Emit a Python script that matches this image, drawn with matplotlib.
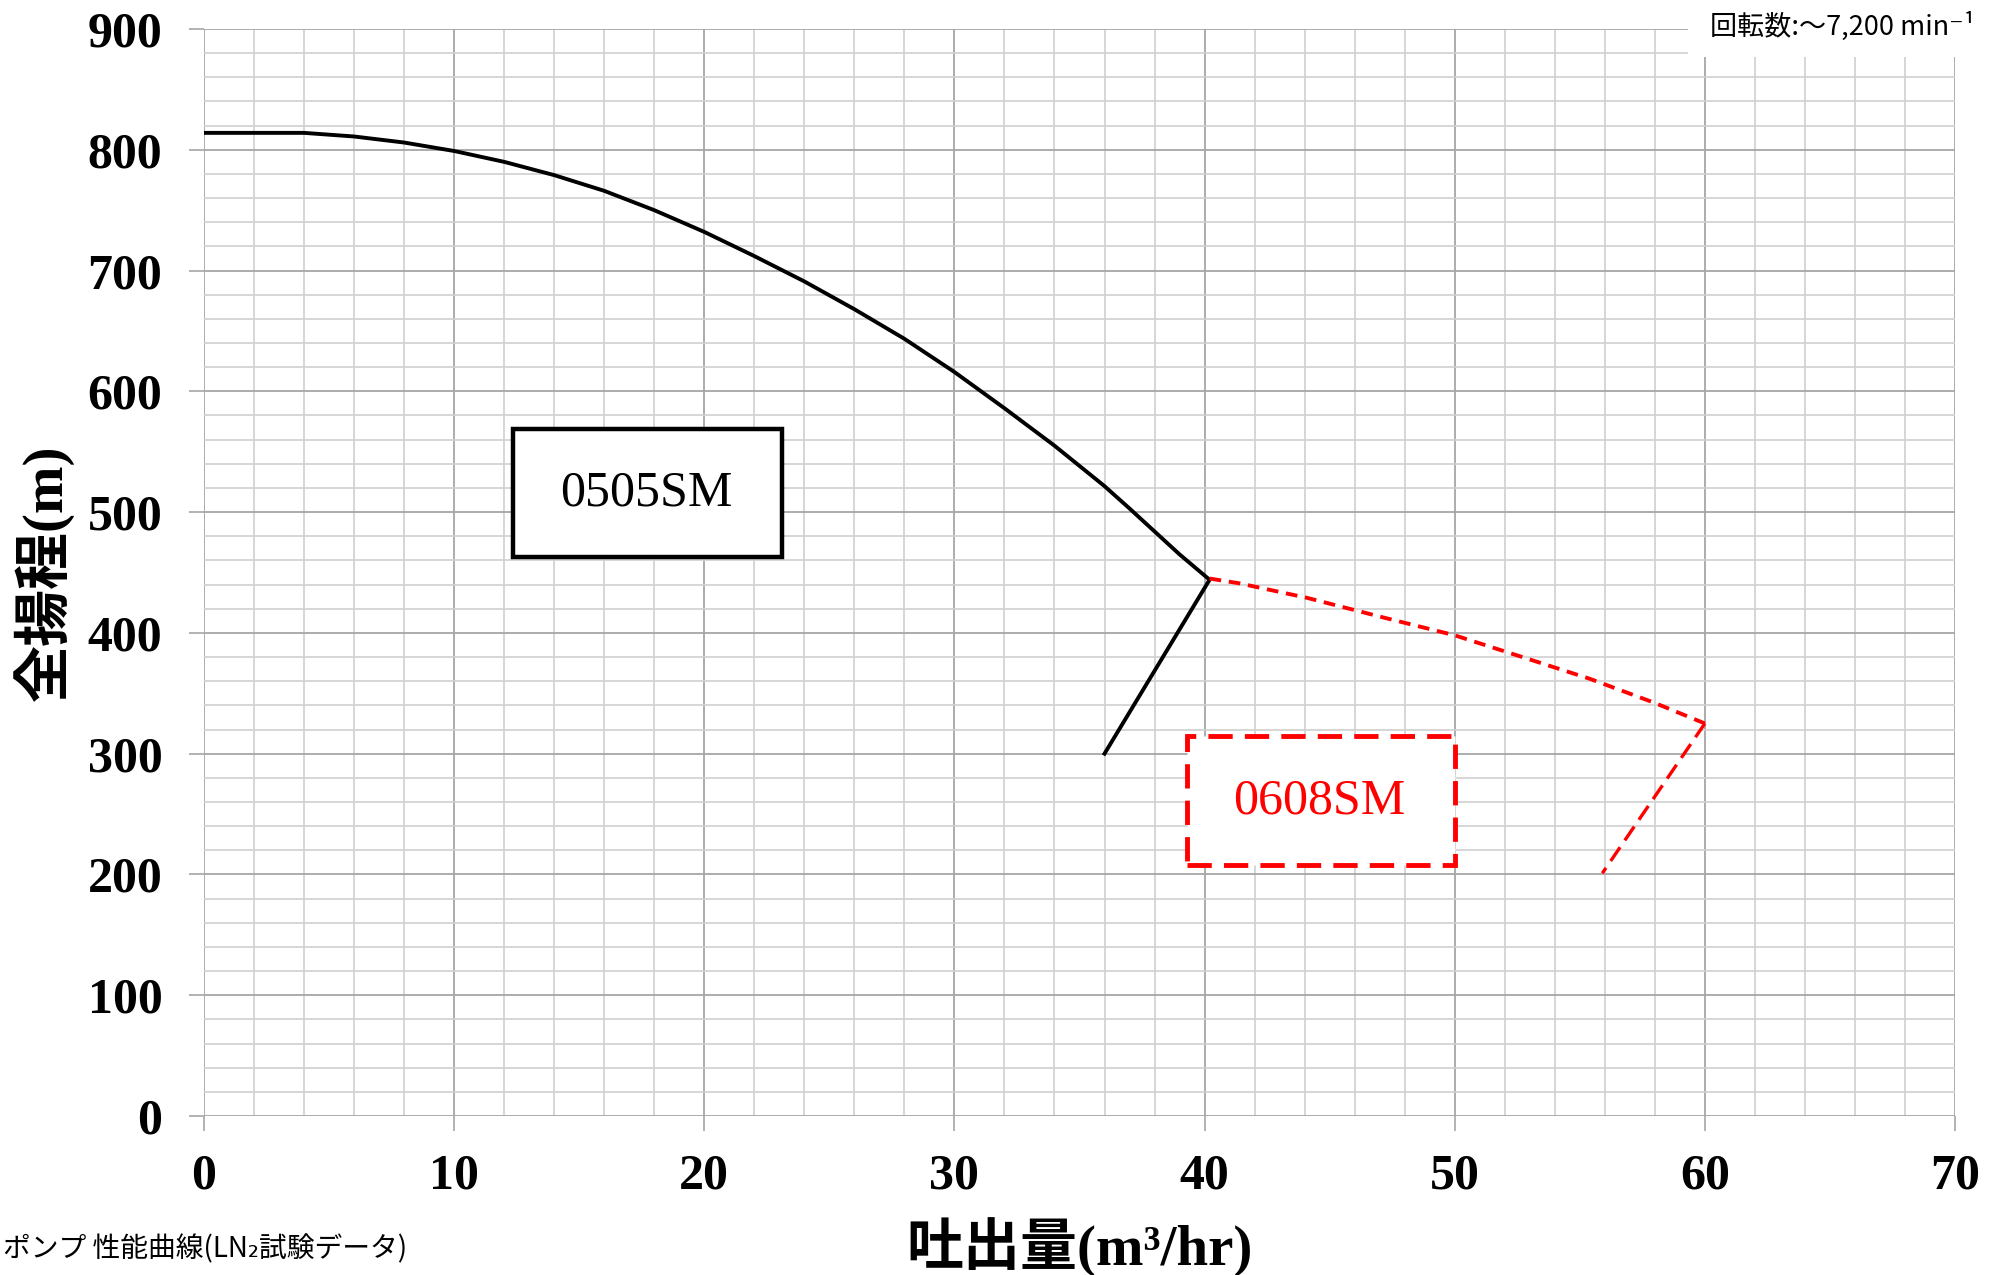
import matplotlib
matplotlib.use('Agg')
from matplotlib import pyplot as plt
from matplotlib.patches import Rectangle
from matplotlib.ticker import MultipleLocator

# 0505SM head curve (solid black)
q_0505 = [0, 2, 4, 6, 8, 10, 12, 14, 16, 18, 20, 22, 24, 26, 28, 30,
          32, 34, 36, 37, 38, 39, 40.2, 36.0]
h_0505 = [814, 814, 814, 811, 806, 799, 790, 779, 766, 750, 732, 712,
          691, 668, 643.5, 616, 586, 555, 521.5, 503, 484, 465, 444, 300]

# 0608SM head curve (dashed red)
q_0608 = [40.2, 41.4, 44.1, 47.1, 50.0, 52.4, 55.4, 58.0, 60.0]
h_0608 = [445, 441, 429, 413, 398, 382, 362, 342, 325]
q_0608_end = [60.0, 55.9]
h_0608_end = [325, 201]

xticks = [0, 10, 20, 30, 40, 50, 60, 70]
yticks = [0, 100, 200, 300, 400, 500, 600, 700, 800, 900]

serif = ['Liberation Serif', 'Noto Sans CJK JP', 'DejaVu Sans']
cjk = ['Noto Sans CJK JP', 'DejaVu Sans']

W, H = 1997, 1275
fig = plt.figure(figsize=(W / 100, H / 100), dpi=100)
ax = fig.add_axes([204 / W, 1 - 1116 / H, (1955 - 204) / W, (1116 - 29) / H])

ax.set_xlim(0, 70)
ax.set_ylim(0, 900)
ax.set_xticks(xticks)
ax.set_yticks(yticks)
ax.xaxis.set_minor_locator(MultipleLocator(2))
ax.yaxis.set_minor_locator(MultipleLocator(20))
ax.grid(which='major', color='#a6a6a6', lw=1.3)
ax.grid(which='minor', color='#d0d0d0', lw=1.2)
ax.set_axisbelow(True)
for s in ax.spines.values():
    s.set_visible(False)
ax.tick_params(which='major', length=11, width=1.2, color='#a6a6a6')
ax.tick_params(which='minor', length=0)
ax.tick_params(axis='x', pad=16)
ax.tick_params(axis='y', pad=19)
for lab in ax.get_xticklabels() + ax.get_yticklabels():
    lab.set_fontfamily(serif)
    lab.set_fontweight('bold')
    lab.set_fontsize(36)

ax.set_xlabel('吐出量(m³/hr)', family=serif, fontweight='bold', fontsize=41,
              va='center')
ax.xaxis.set_label_coords(0.5, (1116 - 1248) / 1087)
ax.set_ylabel('全揚程(m)', family=serif, fontweight='bold', fontsize=41,
              va='center')
ax.yaxis.set_label_coords((43 - 204) / 1751, 0.5)

# curves
ax.plot(q_0505, h_0505, color='black', lw=2.8, zorder=3)
ax.plot(q_0608, h_0608, color='#ff0000', lw=2.8, dashes=(3, 2), zorder=3)
ax.plot(q_0608_end, h_0608_end, color='#ff0000', lw=2.4, dashes=(5, 2.5), zorder=3)

# model labels
ax.add_patch(Rectangle((12.35, 462.8), 23.1 - 12.35, 568.8 - 462.8,
                       fc='white', ec='black', lw=3.2, zorder=4))
ax.text(17.7, 515.5, '0505SM', family=serif, fontsize=36, ha='center',
        va='center', zorder=5)
ax.add_patch(Rectangle((39.3, 207.8), 50.0 - 39.3, 314.6 - 207.8,
                       fc='white', ec='#ff0000', lw=3.5, ls=(0, (5, 2.5)),
                       zorder=4))
ax.text(44.6, 261, '0608SM', family=serif, fontsize=36, color='#ff0000',
        ha='center', va='center', zorder=5)

# top-right note with white background
fig.add_artist(Rectangle((1688 / W, 1 - 57 / H), 1 - 1688 / W, 57 / H,
                         transform=fig.transFigure, fc='white', ec='none',
                         zorder=5))
fig.text(1710 / W, 1 - 26 / H, '回転数:～7,200 min⁻¹', family=cjk,
         fontsize=19.5, ha='left', va='center', zorder=6)

# bottom-left caption
fig.text(3 / W, 1 - 1249 / H, 'ポンプ 性能曲線(LN₂試験データ)', family=cjk,
         fontsize=20, ha='left', va='center')

fig.savefig('out.png', dpi=100)
